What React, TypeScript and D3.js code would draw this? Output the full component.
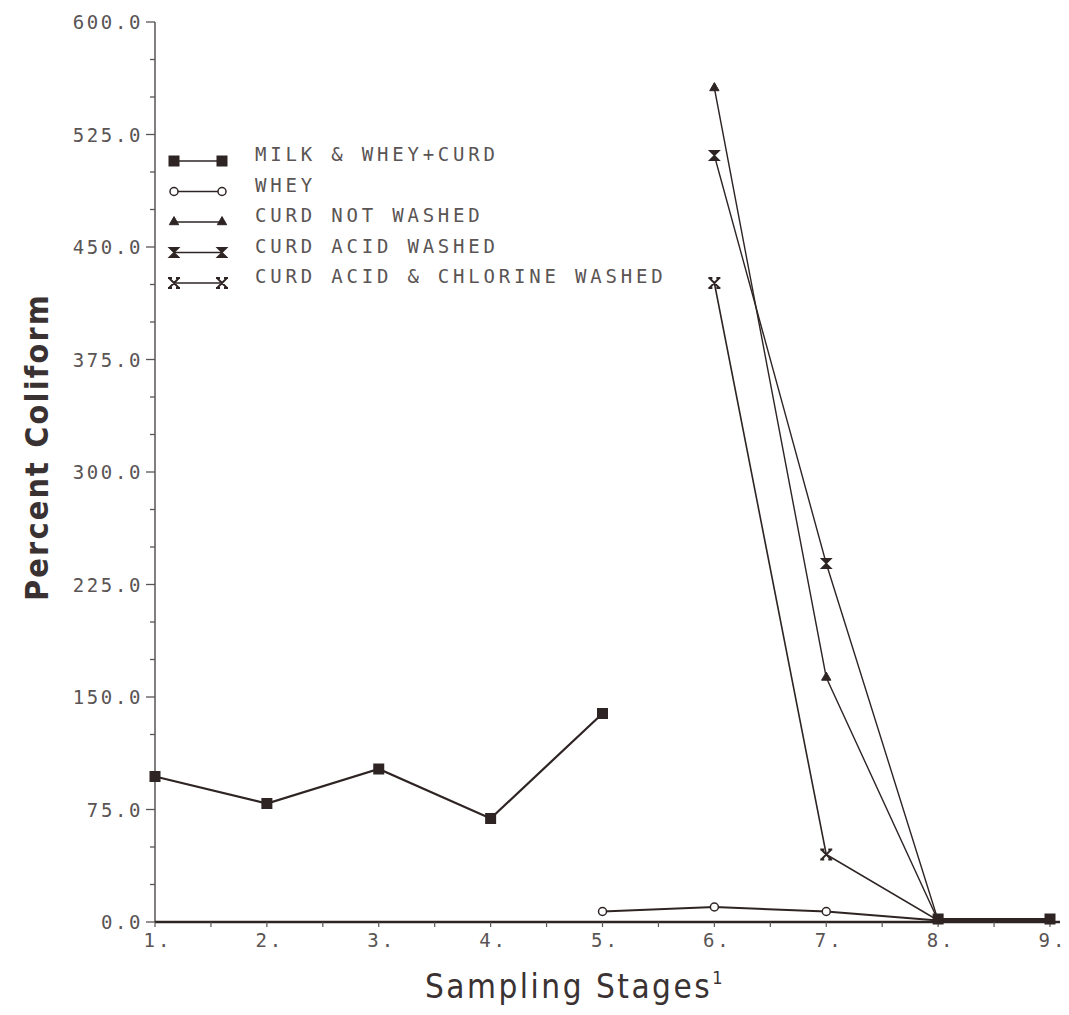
import React, { useRef, useEffect } from 'react';
import * as d3 from 'd3';

// sampling stages 1..9
const stages = [1, 2, 3, 4, 5, 6, 7, 8, 9];
const xTickLabels = ['1.', '2.', '3.', '4.', '5.', '6.', '7.', '8.', '9.'];
const yTicks = [0, 75, 150, 225, 300, 375, 450, 525, 600];

// percent coliform per stage (null = not sampled)
const milkWheyCurd = [97, 79, 102, 69, 139, null, null, 2, 2];
const whey = [null, null, null, null, 7, 10, 7, 1, 1];
const curdNotWashed = [null, null, null, null, null, 556, 163, 1, 1];
const curdAcidWashed = [null, null, null, null, null, 511, 239, 1, 1];
const curdAcidChlorineWashed = [null, null, null, null, null, 426, 45, 1, 1];

const seriesNames = [
  'MILK & WHEY+CURD',
  'WHEY',
  'CURD NOT WASHED',
  'CURD ACID WASHED',
  'CURD ACID & CHLORINE WASHED',
];

const INK = '#2e2424';
const FADED = '#5a5454';

function App() {
  const svgRef = useRef<SVGSVGElement | null>(null);
  const width = 1069;
  const height = 1015;

  useEffect(() => {
    const svg = d3.select(svgRef.current);
    svg.selectAll('*').remove();

    const x = d3.scaleLinear().domain([1, 9]).range([155, 1050]);
    const y = d3.scaleLinear().domain([0, 600]).range([922, 22]);

    const all = [milkWheyCurd, whey, curdNotWashed, curdAcidWashed, curdAcidChlorineWashed];
    const styles = [
      { marker: 'square', width: 2.2 },
      { marker: 'circle', width: 2 },
      { marker: 'triangle', width: 1.4 },
      { marker: 'hourglass', width: 1.4 },
      { marker: 'xbar', width: 1.6 },
    ];

    // marker drawing helper
    const drawMarker = (g: any, kind: string, cx: number, cy: number) => {
      if (kind === 'square') {
        g.append('rect').attr('x', cx - 5.5).attr('y', cy - 5.5)
          .attr('width', 11).attr('height', 11).attr('fill', INK);
      } else if (kind === 'circle') {
        g.append('circle').attr('cx', cx).attr('cy', cy).attr('r', 4)
          .attr('fill', 'white').attr('stroke', INK).attr('stroke-width', 1.5);
      } else if (kind === 'triangle') {
        g.append('path').attr('d', d3.symbol(d3.symbolTriangle, 38)())
          .attr('transform', `translate(${cx},${cy})`)
          .attr('fill', INK).attr('stroke', INK).attr('stroke-width', 1);
      } else if (kind === 'hourglass') {
        g.append('path').attr('d', 'M-5,-5L5,-5L-5,5L5,5Z')
          .attr('transform', `translate(${cx},${cy})`)
          .attr('fill', INK).attr('stroke', INK).attr('stroke-width', 1.2);
      } else {
        g.append('path')
          .attr('d', 'M-5,-5L5,5M5,-5L-5,5M-6,-5L-2,-5M-6,5L-2,5M2,-5L6,-5M2,5L6,5')
          .attr('transform', `translate(${cx},${cy})`)
          .attr('fill', 'none').attr('stroke', INK).attr('stroke-width', 1.8);
      }
    };

    // Y axis
    const yAxis = svg.append('g');
    yAxis.append('line').attr('x1', x(1)).attr('x2', x(1))
      .attr('y1', y(600)).attr('y2', y(0)).attr('stroke', FADED).attr('stroke-width', 1.5);
    d3.range(0, 601, 25).forEach(v => {
      const major = v % 75 === 0;
      yAxis.append('line').attr('x1', x(1) - (major ? 9 : 5)).attr('x2', x(1))
        .attr('y1', y(v)).attr('y2', y(v)).attr('stroke', FADED).attr('stroke-width', 1.3);
    });
    yAxis.selectAll('text.ytick').data(yTicks).enter().append('text')
      .attr('class', 'ytick')
      .attr('x', x(1) - 12).attr('y', d => y(d) + 7)
      .attr('text-anchor', 'end')
      .attr('font-family', 'DejaVu Sans Mono').attr('font-size', 19)
      .attr('letter-spacing', 2.6).attr('fill', FADED)
      .text(d => d3.format('.1f')(d));

    // X axis
    const xAxis = svg.append('g');
    xAxis.append('line').attr('x1', x(1)).attr('x2', x(9) + 10)
      .attr('y1', y(0)).attr('y2', y(0)).attr('stroke', INK).attr('stroke-width', 2.6);
    d3.range(1, 9.01, 0.5).forEach(v => {
      xAxis.append('line').attr('x1', x(v)).attr('x2', x(v))
        .attr('y1', y(0)).attr('y2', y(0) + 5).attr('stroke', FADED).attr('stroke-width', 1.2);
    });
    xAxis.selectAll('text.xtick').data(stages).enter().append('text')
      .attr('class', 'xtick')
      .attr('x', d => x(d) + 3).attr('y', y(0) + 25)
      .attr('text-anchor', 'middle')
      .attr('font-family', 'DejaVu Sans Mono').attr('font-size', 19)
      .attr('letter-spacing', 3).attr('fill', FADED)
      .text((d, i) => xTickLabels[i]);

    // series lines and markers
    const line = d3.line<number | null>()
      .defined(d => d !== null)
      .x((d, i) => x(stages[i]))
      .y(d => y(d as number));

    all.forEach((vals, si) => {
      const g = svg.append('g');
      g.append('path').attr('d', line(vals))
        .attr('fill', 'none').attr('stroke', INK).attr('stroke-width', styles[si].width);
    });
    // markers drawn in reverse so the milk squares sit on top
    all.slice().reverse().forEach((vals, ri) => {
      const si = all.length - 1 - ri;
      const g = svg.append('g');
      vals.forEach((v, i) => {
        if (v === null) return;
        if (i >= 7 && si !== 0) return; // stages 8-9 overlap the milk series
        drawMarker(g, styles[si].marker, x(stages[i]), y(v));
      });
    });

    // legend
    const legend = svg.append('g');
    seriesNames.forEach((name, i) => {
      const ly = 161 + i * 30.5;
      legend.append('line').attr('x1', 174).attr('x2', 222).attr('y1', ly).attr('y2', ly)
        .attr('stroke', INK).attr('stroke-width', 1.6);
      drawMarker(legend, styles[i].marker, 174, ly);
      drawMarker(legend, styles[i].marker, 222, ly);
      legend.append('text').attr('x', 255).attr('y', ly)
        .attr('font-family', 'DejaVu Sans Mono').attr('font-size', 19)
        .attr('letter-spacing', 3.8).attr('fill', FADED)
        .text(name);
    });

    // axis titles
    svg.append('text')
      .attr('transform', `translate(48,447) rotate(-90)`)
      .attr('text-anchor', 'middle')
      .attr('font-family', 'DejaVu Sans Condensed').attr('font-weight', 'bold')
      .attr('font-size', 32).attr('letter-spacing', 2.2).attr('fill', '#3a3232')
      .text('Percent Coliform');

    const xt = svg.append('text')
      .attr('x', 575).attr('y', 998)
      .attr('text-anchor', 'middle')
      .attr('font-family', 'DejaVu Sans Condensed')
      .attr('font-size', 33).attr('letter-spacing', 2.5).attr('fill', '#3a3232');
    xt.append('tspan').text('Sampling Stages');
    xt.append('tspan').attr('font-size', 18).attr('dy', -14).text('1');
  }, []);

  return (
    <svg
      ref={svgRef}
      width={width}
      height={height}
      style={{ position: 'absolute', left: 0, top: 0, background: 'white' }}
    />
  );
}

export default App;
